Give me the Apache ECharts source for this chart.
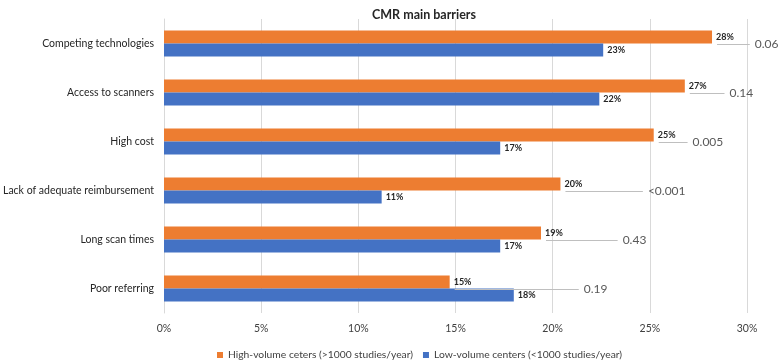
<!DOCTYPE html>
<html><head><meta charset="utf-8">
<script src="https://cdn.jsdelivr.net/npm/echarts@6/dist/echarts.min.js"></script>
<style>html,body{margin:0;padding:0;background:#fff}#c{width:784px;height:363px}</style>
</head><body><div id="c"></div>
<script>
var categories = ['Competing technologies','Access to scanners','High cost','Lack of adequate reimbursement','Long scan times','Poor referring'];
var highVolume = [28.2, 26.8, 25.2, 20.4, 19.4, 14.7];
var lowVolume = [22.6, 22.4, 17.3, 11.2, 17.3, 18.0];
var pValues = ['0.06','0.14','0.005','<0.001','0.43','0.19'];
var pPositions = [30.4, 29.1, 27.2, 24.9, 23.6, 21.6];
var xTicks = [0,5,10,15,20,25,30];

var FONT = 'Lato, "Open Sans", sans-serif';
var chart = echarts.init(document.getElementById('c'));
chart.setOption({
  animation:false,
  title:{text:'CMR main barriers',left:419,textAlign:'center',top:3,textStyle:{fontFamily:FONT,fontSize:12.5,fontWeight:'bold',color:'#262626'}},
  grid:{left:164,right:37,top:19,bottom:50,containLabel:false,outerBoundsMode:'none'},
  legend:{top:345,left:212,itemWidth:6,itemHeight:6,itemGap:10,icon:'rect',
    textStyle:{fontFamily:FONT,fontSize:10.3,color:'#404040'},
    data:['High-volume ceters (>1000 studies/year)','Low-volume centers (<1000 studies/year)']},
  xAxis:{type:'value',min:0,max:30,interval:5,
    axisLabel:{formatter:function(v){return v+'%';},fontFamily:FONT,fontSize:10.5,color:'#404040',margin:10},
    axisLine:{show:false},axisTick:{show:false},
    splitLine:{lineStyle:{color:'#d9d9d9',width:1}}},
  yAxis:{type:'category',data:categories,inverse:true,
    axisLabel:{fontFamily:FONT,fontSize:10.5,color:'#262626',margin:10},
    axisLine:{lineStyle:{color:'#d9d9d9'}},axisTick:{show:false}},
  series:[
    {name:'High-volume ceters (>1000 studies/year)',type:'bar',data:highVolume,barWidth:13,barGap:'0%',
     itemStyle:{color:'#ED7D31'},
     label:{show:true,position:'right',distance:4,fontFamily:FONT,fontSize:9,fontWeight:'bold',color:'#262626',
       formatter:function(p){return Math.round(p.value)+'%';}}},
    {name:'Low-volume centers (<1000 studies/year)',type:'bar',data:lowVolume,barWidth:13,
     itemStyle:{color:'#4472C4'},
     label:{show:true,position:'right',distance:4,fontFamily:FONT,fontSize:9,fontWeight:'bold',color:'#262626',
       formatter:function(p){return Math.round(p.value)+'%';}}},
    {type:'custom',name:'p',silent:true,z:5,
     data:categories.map(function(c,i){return [pPositions[i], i];}),
     encode:{x:0,y:1},
     renderItem:function(params, api){
       var i = params.dataIndex;
       var endPt = api.coord([pPositions[i], i]);
       var startPt = api.coord([highVolume[i], i]);
       return {type:'group',children:[
         {type:'line',shape:{x1:startPt[0]+5,y1:endPt[1]+1,x2:endPt[0]-5,y2:endPt[1]+1},style:{stroke:'#bfbfbf',lineWidth:1}},
         {type:'text',x:endPt[0],y:endPt[1]+1,style:{text:pValues[i],fontFamily:FONT,fontSize:12,fill:'#595959',textAlign:'left',textVerticalAlign:'middle'}}
       ]};
     }}
  ]
});
</script></body></html>
